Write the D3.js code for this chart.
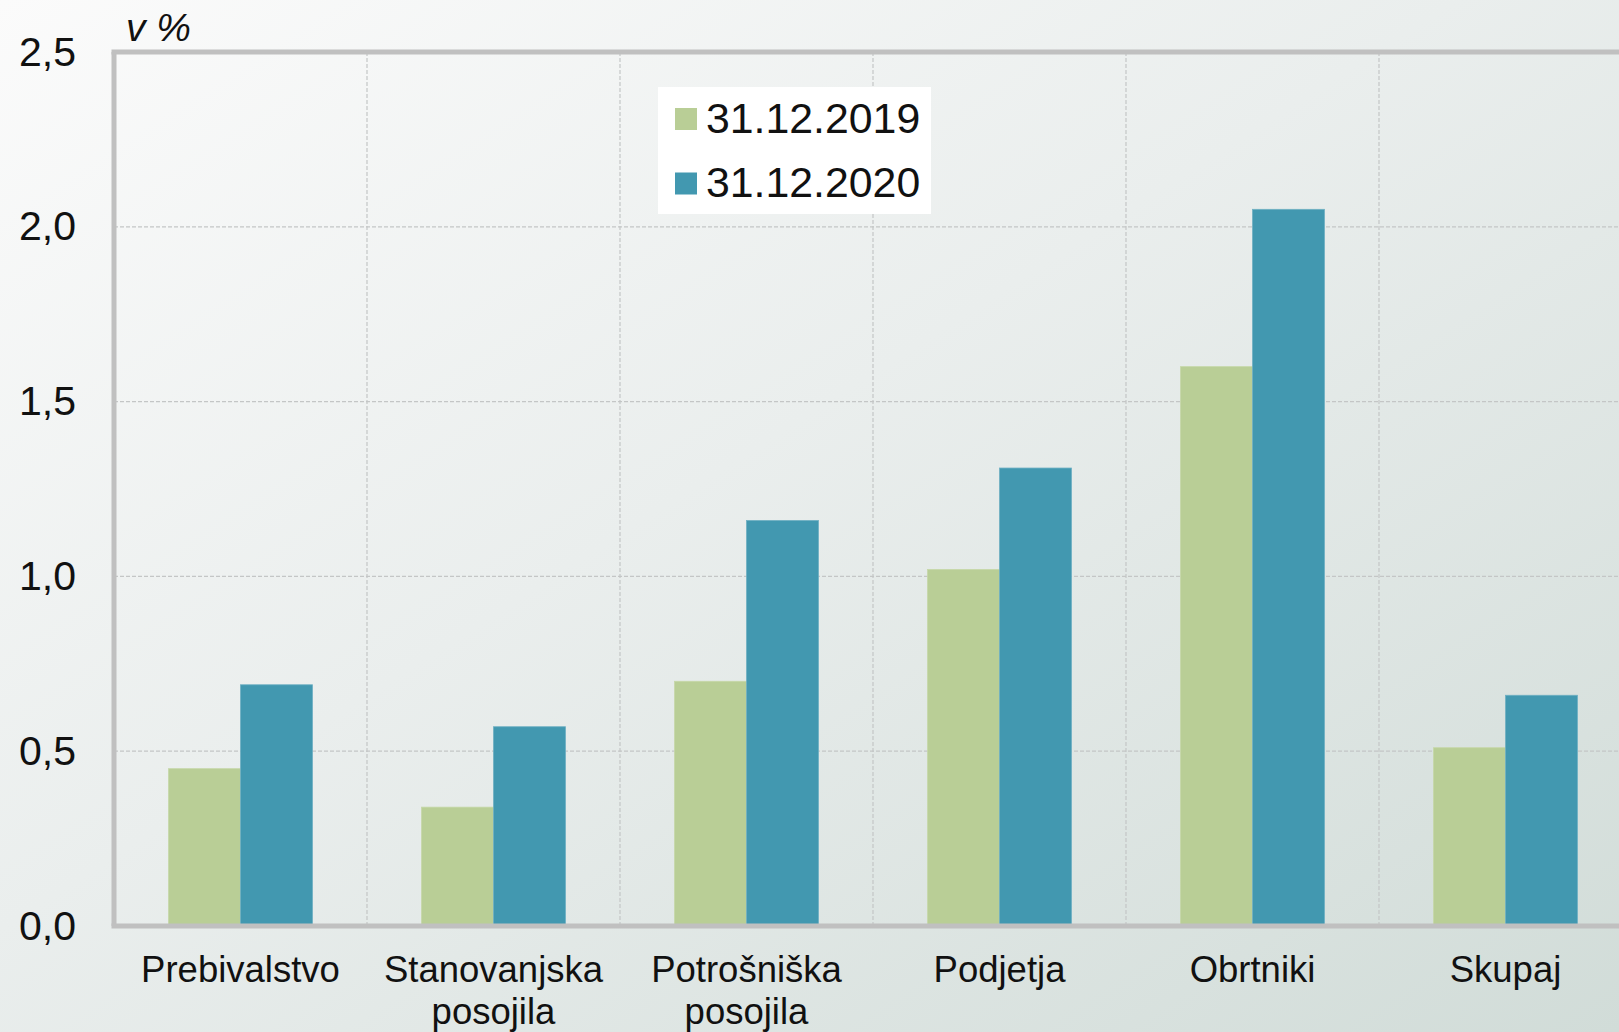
<!DOCTYPE html>
<html>
<head>
<meta charset="utf-8">
<script src="https://cdn.jsdelivr.net/npm/d3@7"></script>
<style>
  body { margin: 0; overflow: hidden; }
  svg { display: block; font-family: "Liberation Sans", Arial, sans-serif; }
</style>
</head>
<body>
<div id="chart"></div>
<script>
// podatki
const categories = ["Prebivalstvo", "Stanovanjska posojila", "Potrošniška posojila", "Podjetja", "Obrtniki", "Skupaj"];
const categoryLines = [["Prebivalstvo"], ["Stanovanjska", "posojila"], ["Potrošniška", "posojila"], ["Podjetja"], ["Obrtniki"], ["Skupaj"]];
const seriesNames = ["31.12.2019", "31.12.2020"];
const values2019 = [0.45, 0.34, 0.70, 1.02, 1.60, 0.51];
const values2020 = [0.69, 0.57, 1.16, 1.31, 2.05, 0.66];
const yTicks = [0, 0.5, 1.0, 1.5, 2.0, 2.5];
const colours = ["#b9ce96", "#4298b0"];
const edgeColours = ["#c6d8a8", "#6fb0c3"];

const fontName = "'Liberation Sans', Arial, sans-serif";
const width = 1619, height = 1032;
const margin = {top: 52, left: 114, bottom: 106};
const plotW = 6 * 253;
const plotH = height - margin.top - margin.bottom;

const svg = d3.select("#chart")
  .append("svg")
  .attr("width", width)
  .attr("height", height);

// achtergrond verloop
const grad = svg.append("defs").append("linearGradient")
  .attr("id", "bg")
  .attr("x1", 0).attr("y1", 0).attr("x2", 1).attr("y2", 1);
grad.append("stop").attr("offset", "0%").attr("stop-color", "#fbfbfb");
grad.append("stop").attr("offset", "45%").attr("stop-color", "#eaeeed");
grad.append("stop").attr("offset", "100%").attr("stop-color", "#d1dcd8");

svg.append("rect")
  .attr("width", width)
  .attr("height", height)
  .attr("fill", "url(#bg)");

const g = svg.append("g")
  .attr("transform", `translate(${margin.left}, ${margin.top})`);

const x0 = d3.scaleBand()
  .domain(categories)
  .range([0, plotW])
  .paddingInner(0)
  .paddingOuter(0);

const x1 = d3.scaleBand()
  .domain(seriesNames)
  .range([0, x0.bandwidth()])
  .paddingInner(0)
  .paddingOuter(0.757);

const y = d3.scaleLinear()
  .domain([0, 2.5])
  .range([plotH, 0]);

// rasterlijnen
g.append("g")
  .selectAll("line")
  .data(yTicks.slice(1, -1))
  .join("line")
  .attr("x1", 0).attr("x2", plotW)
  .attr("y1", d => y(d)).attr("y2", d => y(d))
  .attr("stroke", "#c4c6c6")
  .attr("stroke-width", 1.2)
  .attr("stroke-dasharray", "4,2");

g.append("g")
  .selectAll("line")
  .data(categories.slice(1))
  .join("line")
  .attr("x1", d => x0(d)).attr("x2", d => x0(d))
  .attr("y1", 0).attr("y2", plotH)
  .attr("stroke", "#c4c6c6")
  .attr("stroke-width", 1.2)
  .attr("stroke-dasharray", "4,2");

// staven
const rows = categories.map(function(c, i) {
  return {cat: c, vals: [values2019[i], values2020[i]]};
});

const groups = g.append("g")
  .selectAll("g")
  .data(rows)
  .join("g")
  .attr("transform", d => `translate(${x0(d.cat)}, 0)`);

groups.selectAll("rect")
  .data(d => d.vals.map((v, i) => ({key: seriesNames[i], value: v, idx: i})))
  .join("rect")
  .attr("x", d => x1(d.key))
  .attr("y", d => y(d.value))
  .attr("width", x1.bandwidth())
  .attr("height", d => plotH - y(d.value))
  .attr("fill", d => colours[d.idx])
  .attr("stroke", d => edgeColours[d.idx])
  .attr("stroke-width", 0.8);

// kader
const frameColour = "#c0c0c0";
g.append("line")
  .attr("x1", -2.5).attr("x2", width)
  .attr("y1", 0).attr("y2", 0)
  .attr("stroke", frameColour).attr("stroke-width", 5);
g.append("line")
  .attr("x1", 0).attr("x2", 0)
  .attr("y1", 0).attr("y2", plotH)
  .attr("stroke", frameColour).attr("stroke-width", 5);
g.append("line")
  .attr("x1", -2.5).attr("x2", width)
  .attr("y1", plotH).attr("y2", plotH)
  .attr("stroke", frameColour).attr("stroke-width", 5);

// y-as
const sl = d3.formatLocale({decimal: ",", thousands: ".", grouping: [3], currency: ["", "€"]});
const yAxis = g.append("g")
  .call(d3.axisLeft(y).tickValues(yTicks).tickSize(0).tickPadding(38).tickFormat(sl.format(".1f")))
  .attr("font-family", fontName);
yAxis.select(".domain").remove();
yAxis.selectAll("text")
  .attr("font-size", 41)
  .attr("fill", "#111");

// x-as
const xAxis = g.append("g")
  .attr("transform", `translate(0, ${plotH})`)
  .call(d3.axisBottom(x0).tickSize(0).tickFormat(""))
  .attr("font-family", fontName);
xAxis.select(".domain").remove();
xAxis.selectAll(".tick text").remove();
xAxis.selectAll(".tick")
  .append("text")
  .attr("text-anchor", "middle")
  .attr("font-size", 36.5)
  .attr("fill", "#111")
  .selectAll("tspan")
  .data((d, i) => categoryLines[i])
  .join("tspan")
  .attr("x", 0)
  .attr("y", (d, i) => 56 + i * 42)
  .text(d => d);

// eenheid
svg.append("text")
  .attr("x", 126)
  .attr("y", 41)
  .attr("font-size", 39)
  .attr("font-style", "italic")
  .attr("fill", "#111")
  .text("v %");

// legenda
const legend = svg.append("g").attr("transform", "translate(658, 87)");
legend.append("rect")
  .attr("width", 273)
  .attr("height", 127)
  .attr("fill", "#ffffff");
seriesNames.forEach(function(name, i) {
  legend.append("rect")
    .attr("x", 17)
    .attr("y", 21 + i * 64.5)
    .attr("width", 22)
    .attr("height", 22)
    .attr("fill", colours[i]);
  legend.append("text")
    .attr("x", 48)
    .attr("y", 46 + i * 64)
    .attr("font-size", 42.8)
    .attr("fill", "#111")
    .text(name);
});
</script>
</body>
</html>
